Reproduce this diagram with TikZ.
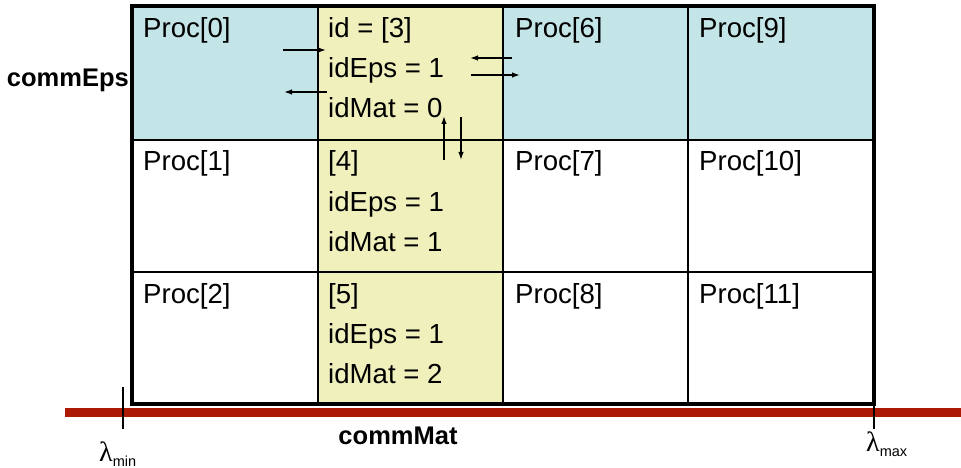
\documentclass[tikz,border=0pt]{standalone}
\usepackage{fontspec}
\setmainfont{Liberation Sans}
\newfontfamily\lamfont{Liberation Serif}
\usetikzlibrary{arrows.meta}
\definecolor{cellblue}{RGB}{196,229,232}
\definecolor{cellyellow}{RGB}{240,240,188}
\definecolor{barred}{RGB}{172,26,6}
\tikzset{
  cell/.style={draw=black, line width=2pt, inner sep=0pt, outer sep=0pt},
  txt/.style={anchor=base west, inner sep=0pt, font=\fontsize{27.6}{27.6}\selectfont},
  lbl/.style={inner sep=0pt, font=\fontsize{25.5}{25.5}\selectfont\bfseries},
  arr/.style={line width=1.4pt, -{Latex[length=8pt,width=5.5pt]}},
  tick/.style={line width=2pt},
}
\begin{document}
\begin{tikzpicture}[x=1pt,y=-1pt]
\useasboundingbox (0,0) rectangle (961,468);
% red axis bar
\coordinate (barL) at (65,412);
\coordinate (barR) at (961,412);
\draw[barred, line width=9pt] (barL) -- (barR);
% cells: columns 132,318,503,688,874 ; rows 6.5,140,272,403.5
\node[cell, fill=cellblue, minimum width=186pt, minimum height=133.5pt] (c00) at (225,73.25) {};
\node[cell, fill=cellyellow, minimum width=185pt, minimum height=133.5pt] (c10) at (410.5,73.25) {};
\node[cell, fill=cellblue, minimum width=185pt, minimum height=133.5pt] (c20) at (595.5,73.25) {};
\node[cell, fill=cellblue, minimum width=186pt, minimum height=133.5pt] (c30) at (781,73.25) {};
\node[cell, fill=white, minimum width=186pt, minimum height=132pt] (c01) at (225,206) {};
\node[cell, fill=cellyellow, minimum width=185pt, minimum height=132pt] (c11) at (410.5,206) {};
\node[cell, fill=white, minimum width=185pt, minimum height=132pt] (c21) at (595.5,206) {};
\node[cell, fill=white, minimum width=186pt, minimum height=132pt] (c31) at (781,206) {};
\node[cell, fill=white, minimum width=186pt, minimum height=131.5pt] (c02) at (225,337.75) {};
\node[cell, fill=cellyellow, minimum width=185pt, minimum height=131.5pt] (c12) at (410.5,337.75) {};
\node[cell, fill=white, minimum width=185pt, minimum height=131.5pt] (c22) at (595.5,337.75) {};
\node[cell, fill=white, minimum width=186pt, minimum height=131.5pt] (c32) at (781,337.75) {};
% outer frame
\node[draw=black, line width=4pt, inner sep=0pt, minimum width=742pt, minimum height=397pt] (frame) at (503,205) {};
% texts
\node[txt] (p0) at (143,38) {Proc[0]};
\node[txt] (p1) at (143,171) {Proc[1]};
\node[txt] (p2) at (143,303) {Proc[2]};
\node[txt] (p6) at (515,38) {Proc[6]};
\node[txt] (p7) at (515,171) {Proc[7]};
\node[txt] (p8) at (515,303) {Proc[8]};
\node[txt] (p9) at (699,38) {Proc[9]};
\node[txt] (p10) at (699,171) {Proc[10]};
\node[txt] (p11) at (699,303) {Proc[11]};
\node[txt] (a1) at (328,38) {id = [3]};
\node[txt] (a2) at (328,78) {idEps = 1};
\node[txt] (a3) at (328,118) {idMat = 0};
\node[txt] (b1) at (328,171) {[4]};
\node[txt] (b2) at (328,211) {idEps = 1};
\node[txt] (b3) at (328,251) {idMat = 1};
\node[txt] (d1) at (328,303) {[5]};
\node[txt] (d2) at (328,343) {idEps = 1};
\node[txt] (d3) at (328,383) {idMat = 2};
\node[lbl, anchor=east] (ceps) at (129,80) {commEps};
\node[lbl, anchor=base] (cmat) at (398,444) {commMat};
% arrows
\coordinate (r1s) at (283,50); \coordinate (r1e) at (326,50);
\coordinate (l1s) at (327,92); \coordinate (l1e) at (284,92);
\coordinate (l2s) at (512,58); \coordinate (l2e) at (470,58);
\coordinate (r2s) at (471,75); \coordinate (r2e) at (520,75);
\coordinate (u1s) at (444,160); \coordinate (u1e) at (444,116);
\coordinate (d1s) at (461,117); \coordinate (d1e) at (461,160);
\draw[arr] (r1s) -- (r1e);
\draw[arr] (l1s) -- (l1e);
\draw[arr] (l2s) -- (l2e);
\draw[arr] (r2s) -- (r2e);
\draw[arr] (u1s) -- (u1e);
\draw[arr] (d1s) -- (d1e);
% ticks
\coordinate (t1a) at (123,387); \coordinate (t1b) at (123,429);
\coordinate (t2a) at (874,403); \coordinate (t2b) at (874,429);
\draw[tick] (t1a) -- (t1b);
\draw[tick] (t2a) -- (t2b);
% lambda labels
\node[anchor=base west, inner sep=0pt] (lmin) at (99,461) {\fontsize{28}{28}\lamfont λ\raisebox{-5pt}{\fontsize{14.5}{14.5}\selectfont\normalfont min}};
\node[anchor=base west, inner sep=0pt] (lmax) at (866,451) {\fontsize{28}{28}\lamfont λ\raisebox{-5pt}{\fontsize{14.5}{14.5}\selectfont\normalfont max}};
\end{tikzpicture}
\end{document}
